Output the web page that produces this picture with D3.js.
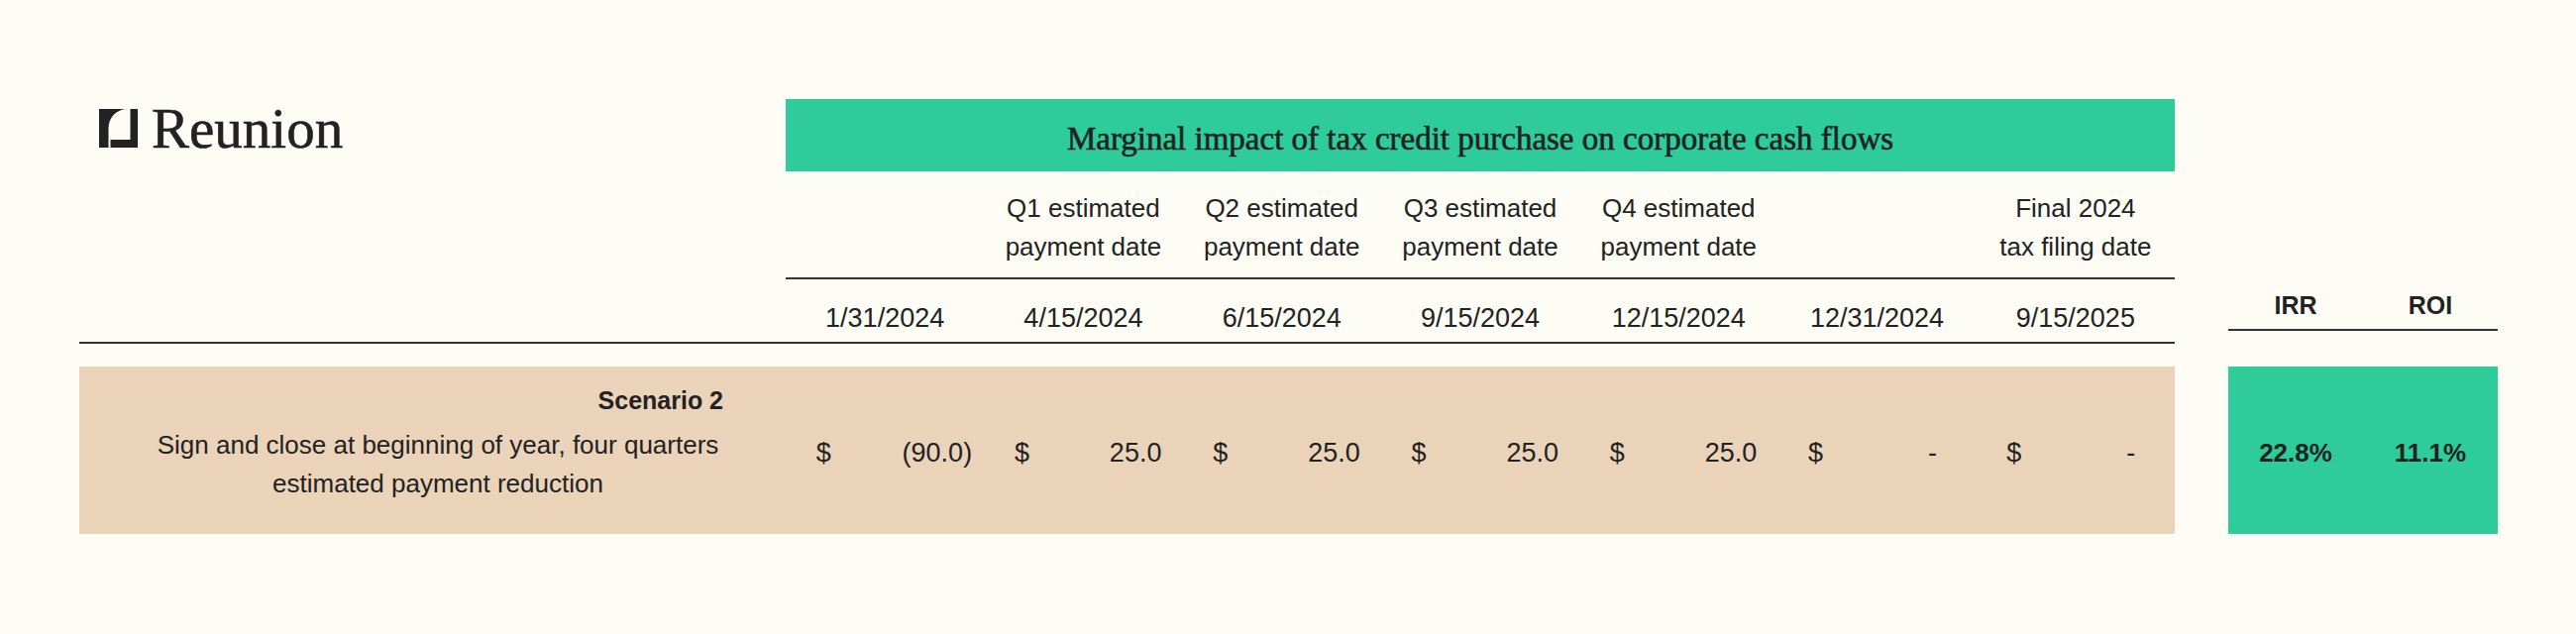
<!DOCTYPE html>
<html>
<head>
<meta charset="utf-8">
<script src="https://cdn.jsdelivr.net/npm/d3@7"></script>
<style>
    body { margin: 0; background: #fdfdf6; }
    svg { display: block; }
    .sans { font-family: "Liberation Sans", Arial, sans-serif; fill: #222; }
    .serif { font-family: "Liberation Serif", "Times New Roman", serif; fill: #222; }
    .rule { stroke: #333; stroke-width: 2; }
</style>
</head>
<body>
<script>

//table data
var dates = ["1/31/2024", "4/15/2024", "6/15/2024", "9/15/2024", "12/15/2024", "12/31/2024", "9/15/2025"];
var headerTop = ["", "Q1 estimated", "Q2 estimated", "Q3 estimated", "Q4 estimated", "", "Final 2024"];
var headerBottom = ["", "payment date", "payment date", "payment date", "payment date", "", "tax filing date"];
var cashFlows = [-90.0, 25.0, 25.0, 25.0, 25.0, 0, 0];
var metrics = ["IRR", "ROI"];
var metricValues = [22.8, 11.1];
var title = "Marginal impact of tax credit purchase on corporate cash flows";
var scenarioName = "Scenario 2";
var scenarioText = ["Sign and close at beginning of year, four quarters", "estimated payment reduction"];

window.onload = drawTable();

function drawTable(){

    var width = 2600,
        height = 640;

    var svg = d3.select("body")
        .append("svg")
        .attr("width", width)
        .attr("height", height);

    //background
    svg.append("rect")
        .attr("width", width)
        .attr("height", height)
        .attr("fill", "#fdfdf6");

    //column scales
    var x = d3.scaleBand()
        .domain(dates)
        .range([793, 2195]);

    var xm = d3.scaleBand()
        .domain(metrics)
        .range([2249, 2521]);

    var colMid = function(d){ return x(d) + x.bandwidth() / 2; };
    var metMid = function(d){ return xm(d) + xm.bandwidth() / 2; };

    //logo
    var logo = svg.append("g").attr("transform", "translate(100,110)");
    logo.append("rect")
        .attr("width", 39)
        .attr("height", 39)
        .attr("fill", "#222");
    logo.append("path")
        .attr("d", "M9.5,39 L9.5,19 A19,19 0 0 1 28.5,0 L31.5,0 L31.5,31 L11.5,31 L11.5,39 Z")
        .attr("fill", "#fdfdf6");
    svg.append("text")
        .attr("class", "serif")
        .attr("x", 153)
        .attr("y", 149)
        .attr("font-size", 57)
        .attr("stroke", "#222")
        .attr("stroke-width", 0.6)
        .text("Reunion");

    //title band
    svg.append("rect")
        .attr("x", x.range()[0])
        .attr("y", 100)
        .attr("width", x.range()[1] - x.range()[0])
        .attr("height", 73)
        .attr("fill", "#2ecc9b");
    svg.append("text")
        .attr("class", "serif")
        .attr("x", (x.range()[0] + x.range()[1]) / 2)
        .attr("y", 151)
        .attr("text-anchor", "middle")
        .attr("font-size", 33)
        .attr("stroke", "#222")
        .attr("stroke-width", 0.6)
        .text(title);

    //column headers
    svg.selectAll(".hTop")
        .data(dates)
        .enter()
        .append("text")
        .attr("class", "sans hTop")
        .attr("x", colMid)
        .attr("y", 219)
        .attr("text-anchor", "middle")
        .attr("font-size", 26)
        .text(function(d, i){ return headerTop[i]; });

    svg.selectAll(".hBot")
        .data(dates)
        .enter()
        .append("text")
        .attr("class", "sans hBot")
        .attr("x", colMid)
        .attr("y", 258)
        .attr("text-anchor", "middle")
        .attr("font-size", 26)
        .text(function(d, i){ return headerBottom[i]; });

    svg.append("line")
        .attr("class", "rule")
        .attr("x1", x.range()[0])
        .attr("x2", x.range()[1])
        .attr("y1", 281)
        .attr("y2", 281);

    svg.selectAll(".date")
        .data(dates)
        .enter()
        .append("text")
        .attr("class", "sans date")
        .attr("x", colMid)
        .attr("y", 330)
        .attr("text-anchor", "middle")
        .attr("font-size", 27)
        .text(function(d){ return d; });

    svg.append("line")
        .attr("class", "rule")
        .attr("x1", 80)
        .attr("x2", x.range()[1])
        .attr("y1", 346)
        .attr("y2", 346);

    //metric headers
    svg.selectAll(".mHead")
        .data(metrics)
        .enter()
        .append("text")
        .attr("class", "sans mHead")
        .attr("x", metMid)
        .attr("y", 317)
        .attr("text-anchor", "middle")
        .attr("font-size", 25)
        .attr("font-weight", "bold")
        .text(function(d){ return d; });

    svg.append("line")
        .attr("class", "rule")
        .attr("x1", xm.range()[0])
        .attr("x2", xm.range()[1])
        .attr("y1", 333)
        .attr("y2", 333);

    //scenario row
    svg.append("rect")
        .attr("x", 80)
        .attr("y", 370)
        .attr("width", x.range()[1] - 80)
        .attr("height", 169)
        .attr("fill", "#ead3b9");

    svg.append("text")
        .attr("class", "sans")
        .attr("x", 730)
        .attr("y", 413)
        .attr("text-anchor", "end")
        .attr("font-size", 25)
        .attr("font-weight", "bold")
        .text(scenarioName);

    svg.selectAll(".desc")
        .data(scenarioText)
        .enter()
        .append("text")
        .attr("class", "sans desc")
        .attr("x", 442)
        .attr("y", function(d, i){ return 458 + i * 39; })
        .attr("text-anchor", "middle")
        .attr("font-size", 26)
        .text(function(d){ return d; });

    //dollar signs
    svg.selectAll(".dollar")
        .data(dates)
        .enter()
        .append("text")
        .attr("class", "sans dollar")
        .attr("x", function(d){ return colMid(d) - 62; })
        .attr("y", 466)
        .attr("text-anchor", "middle")
        .attr("font-size", 27)
        .text("$");

    //cash flow values, accounting format
    svg.selectAll(".val")
        .data(cashFlows)
        .enter()
        .append("text")
        .attr("class", "sans val")
        .attr("x", function(d, i){
            var c = colMid(dates[i]);
            if (d === 0) return c + 56;
            return d < 0 ? c + 88 : c + 79;
        })
        .attr("y", 466)
        .attr("text-anchor", function(d){ return d === 0 ? "middle" : "end"; })
        .attr("font-size", 27)
        .text(function(d){
            if (d === 0) return "-";
            return d < 0 ? "(" + d3.format(".1f")(-d) + ")" : d3.format(".1f")(d);
        });

    //metric box
    svg.append("rect")
        .attr("x", xm.range()[0])
        .attr("y", 370)
        .attr("width", xm.range()[1] - xm.range()[0])
        .attr("height", 169)
        .attr("fill", "#2ecc9b");

    svg.selectAll(".mVal")
        .data(metricValues)
        .enter()
        .append("text")
        .attr("class", "sans mVal")
        .attr("x", function(d, i){ return metMid(metrics[i]); })
        .attr("y", 466)
        .attr("text-anchor", "middle")
        .attr("font-size", 26)
        .attr("font-weight", "bold")
        .text(function(d){ return d3.format(".1f")(d) + "%"; });
}
</script>
</body>
</html>
